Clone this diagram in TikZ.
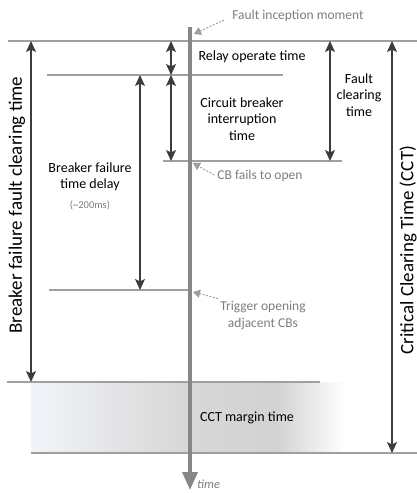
\documentclass[tikz,border=0pt]{standalone}
\usepackage{fontspec}
\setmainfont{Carlito}
\usetikzlibrary{arrows.meta}

\definecolor{levelgray}{RGB}{160,160,160}
\definecolor{axisgray}{RGB}{135,135,135}
\definecolor{arrowdark}{RGB}{60,60,60}
\definecolor{notegray}{RGB}{125,125,125}
\definecolor{cctleft}{RGB}{242,244,250}
\definecolor{cctmid}{RGB}{210,210,210}

\pgfdeclarehorizontalshading{cctfade}{100bp}{color(0bp)=(cctleft); color(25bp)=(cctleft);
	color(48bp)=(cctmid!85!white); color(64bp)=(cctmid); color(75bp)=(white); color(100bp)=(white)}

\begin{document}
\begin{tikzpicture}[x=1pt, y=-1pt,
	level/.style={draw=levelgray, line width=1.3pt},
	span/.style={draw=arrowdark, line width=1.2pt, {Stealth[length=11pt,width=10pt,inset=2.5pt]}-{Stealth[length=11pt,width=10pt,inset=2.5pt]}},
	note/.style={draw=notegray!80, line width=0.9pt, dash pattern=on 2pt off 1.5pt, -{Triangle[length=7pt,width=8pt,fill=levelgray]}},
	lbl/.style={font=\fontsize{14}{16.5}\selectfont, align=center, inner sep=0pt},
	notelbl/.style={font=\fontsize{13.5}{17}\selectfont, text=notegray, align=center, inner sep=0pt},
	biglbl/.style={font=\fontsize{19}{22}\selectfont, rotate=90, inner sep=0pt}]

	\useasboundingbox (0,0) rectangle (417,493);

	%margin band
	\fill[shading=cctfade] (31,382) rectangle (345,453);

	%levels
	\foreach \y/\xa/\xb in {41/8/417, 75/47/283, 161/163/342, 290/49/190, 382/7/320, 453/31/417}
		\draw[level] (\xa,\y) -- (\xb,\y);

	%axis
	\coordinate (axis top) at (190,27);
	\coordinate (axis end) at (190,490);
	\draw[axisgray, line width=3.5pt, -{Triangle[length=18pt,width=15pt]}] (axis top) -- (axis end);
	\node[font=\fontsize{12.5}{14}\selectfont\itshape, text=notegray, anchor=west, inner sep=0pt] (time) at (197,484) {time};

	%arrow ends
	\coordinate (bfct top) at (31,41);   \coordinate (bfct bot) at (31,382);
	\coordinate (delay top) at (140,75); \coordinate (delay bot) at (140,290);
	\coordinate (relay top) at (171,41); \coordinate (relay bot) at (171,75);
	\coordinate (cbi bot) at (171,161);
	\coordinate (fct top) at (330,41);   \coordinate (fct bot) at (330,161);
	\coordinate (cct top) at (392,41);   \coordinate (cct bot) at (392,453);

	\draw[span] (bfct top) -- (bfct bot);
	\draw[span] (delay top) -- (delay bot);
	\draw[span] (relay top) -- (relay bot);
	\draw[span] (relay bot) -- (cbi bot);
	\draw[span] (fct top) -- (fct bot);
	\draw[span] (cct top) -- (cct bot);

	%labels
	\node[lbl] (relay) at (252,57) {Relay operate time};
	\node[lbl] (cbi) at (242,119) {Circuit breaker\\interruption\\time};
	\node[lbl] (fct) at (359,95) {Fault\\clearing\\time};
	\node[lbl] (delay) at (90,177) {Breaker failure\\time delay};
	\node[lbl, font=\fontsize{10.5}{12}\selectfont, text=notegray] (approx) at (90,205) {(\textasciitilde200ms)};
	\node[lbl] (margin) at (247,418) {CCT margin time};
	\node[biglbl] (bfct) at (17,205) {Breaker failure fault clearing time};
	\node[biglbl] (cct) at (408,250) {Critical Clearing Time (CCT)};

	%notes
	\node[notelbl] (inception) at (298,16) {Fault inception moment};
	\node[notelbl] (fails) at (260,176) {CB fails to open};
	\node[notelbl] (trigger) at (263,316) {Trigger opening\\adjacent CBs};
	\coordinate (inception tip) at (194,34);
	\coordinate (fails tip) at (193,163);
	\coordinate (trigger tip) at (193,292);
	\draw[note] (inception.west) ++(-8,4) coordinate (inception tail) (inception tail) -- (inception tip);
	\draw[note] (fails.west) ++(-3,-1) coordinate (fails tail) (fails tail) -- (fails tip);
	\draw[note] (trigger.north west) ++(-2,-3) coordinate (trigger tail) (trigger tail) -- (trigger tip);
\end{tikzpicture}
\end{document}
